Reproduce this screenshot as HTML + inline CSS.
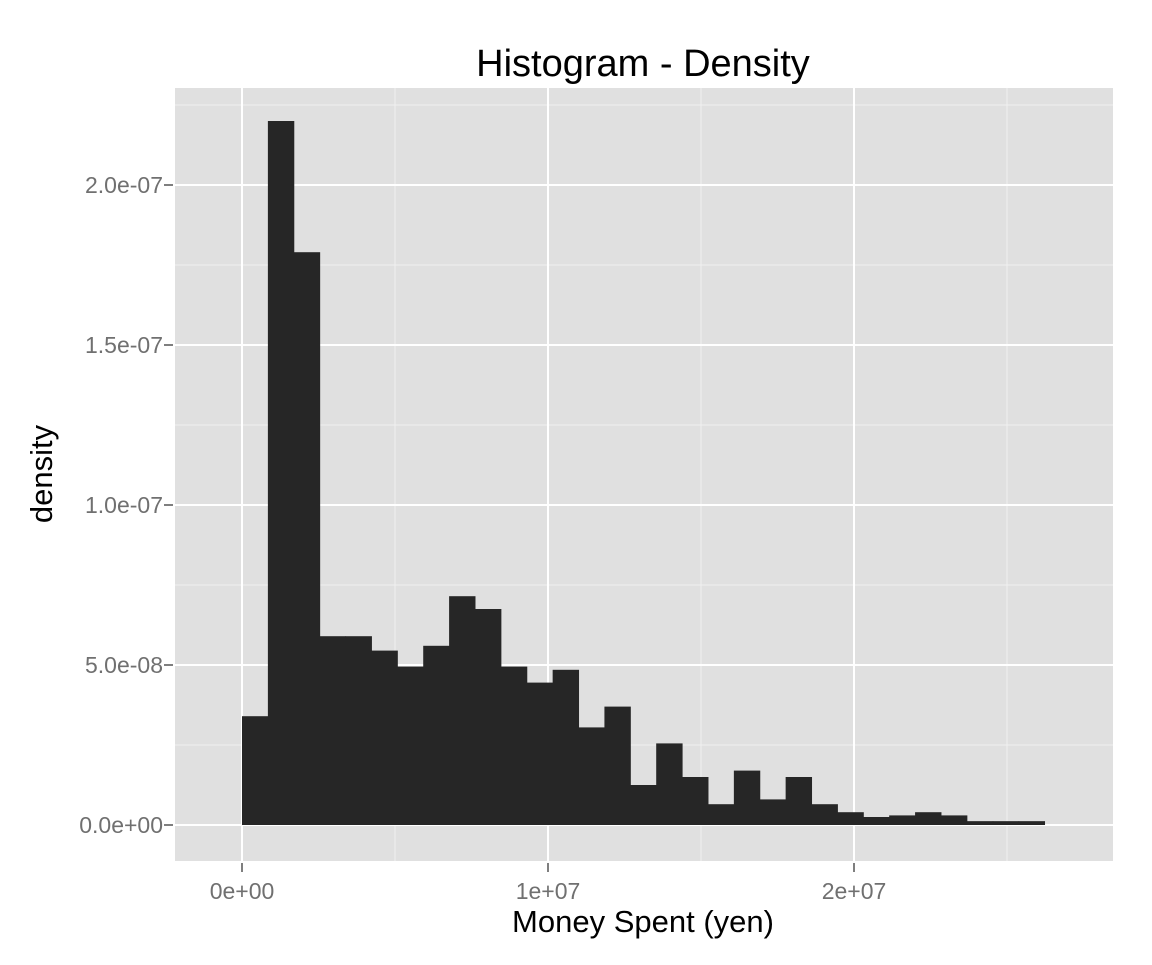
<!DOCTYPE html>
<html><head><meta charset="utf-8"><style>
body{margin:0;background:#fff;font-family:"Liberation Sans",sans-serif}
</style></head><body>
<svg width="1152" height="960" xmlns="http://www.w3.org/2000/svg">
<text x="643" y="76" font-size="38" text-anchor="middle">Histogram - Density</text>
<rect x="175" y="88" width="938" height="773" fill="#e0e0e0"/>
<g id="grid"></g>
<g id="bars"></g>
<g id="axes"></g>
<text x="643" y="932" font-size="31" text-anchor="middle">Money Spent (yen)</text>
<text transform="translate(52,474) rotate(-90)" font-size="31" text-anchor="middle">density</text>
</svg>
<script>
const binWidth = 846000;
const densities = [3.4e-8,2.2e-7,1.79e-7,5.9e-8,5.9e-8,5.45e-8,4.95e-8,5.6e-8,7.15e-8,6.75e-8,4.95e-8,4.45e-8,4.85e-8,3.05e-8,3.7e-8,1.25e-8,2.55e-8,1.5e-8,0.65e-8,1.7e-8,0.8e-8,1.5e-8,0.65e-8,0.4e-8,0.25e-8,0.3e-8,0.4e-8,0.3e-8,0.12e-8,0.12e-8,0.12e-8];
const xTicks = [0,1e7,2e7];
const xTickLabels = ["0e+00","1e+07","2e+07"];
const yTicks = [0,5e-8,1e-7,1.5e-7,2e-7];
const yTickLabels = ["0.0e+00","5.0e-08","1.0e-07","1.5e-07","2.0e-07"];
const X = v => 242 + v * 306e-7;
const Y = v => 825 - v * 3.2e9;
const NS = "http://www.w3.org/2000/svg";
function mk(tag, attrs, parent){const e=document.createElementNS(NS,tag);for(const k in attrs)e.setAttribute(k,attrs[k]);document.getElementById(parent).appendChild(e);return e;}
for(let i=-0.5;i<=2.75;i+=1){const x=X(i*1e7);if(x>175&&x<1113){const l=mk('line',{x1:x,x2:x,y1:88,y2:861,stroke:'#f0f0f0','stroke-width':1},'grid');

}}
for(let i=-1;i<=9;i++){const v=(i+0.5)*5e-8;const y=Y(v);if(y>88&&y<861){const l=mk('line',{x1:175,x2:1113,y1:y,y2:y,stroke:'#f0f0f0','stroke-width':1},'grid');

}}
xTicks.forEach((t,i)=>{const x=X(t);
const l=mk('line',{x1:x,x2:x,y1:88,y2:861,stroke:'#fff','stroke-width':2},'grid');


const tk=mk('line',{x1:x,x2:x,y1:863,y2:872,stroke:'#7f7f7f','stroke-width':2},'axes');


const tx=mk('text',{x:x,y:899,'font-size':23,'text-anchor':'middle',fill:'#707070'},'axes');tx.textContent=xTickLabels[i];

});
yTicks.forEach((t,i)=>{const y=Y(t);
const l=mk('line',{x1:175,x2:1113,y1:y,y2:y,stroke:'#fff','stroke-width':2},'grid');


const tk=mk('line',{x1:164,x2:173,y1:y,y2:y,stroke:'#7f7f7f','stroke-width':2},'axes');


const tx=mk('text',{x:163,y:y+8,'font-size':23,'text-anchor':'end',fill:'#707070'},'axes');tx.textContent=yTickLabels[i];

});
densities.forEach((d,i)=>{const x0=X(i*binWidth),x1=X((i+1)*binWidth);
const r=mk('rect',{x:x0,y:Y(d),width:x1-x0+0.5,height:Y(0)-Y(d),fill:'#262626'},'bars');

});
</script>
</body></html>
